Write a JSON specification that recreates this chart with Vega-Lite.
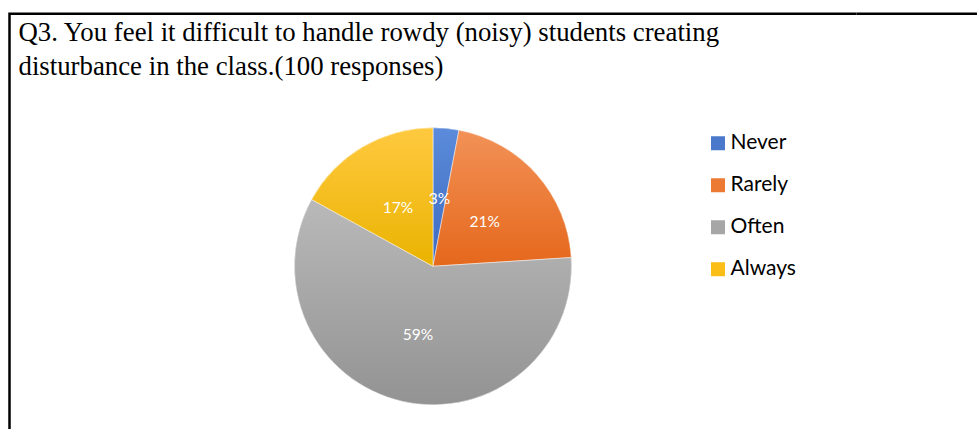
{
  "$schema": "https://vega.github.io/schema/vega-lite/v6.json",
  "autosize": {"type": "pad"},
  "bounds": "flush",
  "padding": {"left": 7.5, "top": 11.75, "right": -20, "bottom": -90.25},
  "background": "white",
  "title": {
    "text": ["Q3. You feel it difficult to handle rowdy (noisy) students creating", "disturbance in the class.(100 responses)"],
    "anchor": "start",
    "frame": "group",
    "font": "Liberation Serif",
    "fontSize": 26.8,
    "fontWeight": "normal",
    "color": "black",
    "lineHeight": 34,
    "dx": 9,
    "dy": 72
  },
  "data": {"values": [
    {"response": "Never", "idx": 1, "share": 0.03},
    {"response": "Rarely", "idx": 2, "share": 0.21},
    {"response": "Often", "idx": 3, "share": 0.59},
    {"response": "Always", "idx": 4, "share": 0.17}
  ]},
  "spacing": 0,
  "hconcat": [
    {
      "width": 847,
      "height": 505,
      "view": {"stroke": "black", "strokeWidth": 2.5, "strokeDash": [847, 505, 1352]},
      "encoding": {
        "theta": {"field": "share", "type": "quantitative", "stack": true, "scale": {"domain": [0, 1]}},
        "order": {"field": "idx", "type": "quantitative"}
      },
      "layer": [
        {
          "mark": {"type": "arc", "outerRadius": 138.5},
          "encoding": {
            "color": {
              "field": "response",
              "type": "nominal",
              "sort": ["Never", "Rarely", "Often", "Always"],
              "scale": {
                "domain": ["Never", "Rarely", "Often", "Always"],
                "range": ["#4A78CB", "#ED7A34", "#A6A6A6", "#FBBE16"]
              },
              "legend": {
                "orient": "none",
                "legendX": 698,
                "legendY": 119,
                "title": null,
                "symbolType": "square",
                "symbolSize": 196,
                "symbolStrokeWidth": 0,
                "symbolOpacity": 1,
                "labelFont": "Lato",
                "labelFontSize": 21,
                "labelColor": "black",
                "labelOffset": 2,
                "rowPadding": 20
              }
            }
          }
        },
        {
          "mark": {"type": "arc", "outerRadius": 138.5, "stroke": "white", "strokeWidth": 0.5},
          "encoding": {
            "fill": {
              "condition": [
                {"test": "datum.response === 'Never'", "value": {"gradient": "linear", "x1": 0, "y1": 0, "x2": 0, "y2": 1, "stops": [{"offset": 0, "color": "#5B8BDA"}, {"offset": 1, "color": "#3D6AC0"}]}},
                {"test": "datum.response === 'Rarely'", "value": {"gradient": "linear", "x1": 0, "y1": 0, "x2": 0, "y2": 1, "stops": [{"offset": 0, "color": "#F29157"}, {"offset": 1, "color": "#E5681C"}]}},
                {"test": "datum.response === 'Often'", "value": {"gradient": "linear", "x1": 0, "y1": 0, "x2": 0, "y2": 1, "stops": [{"offset": 0, "color": "#B9B9B9"}, {"offset": 1, "color": "#939393"}]}}
              ],
              "value": {"gradient": "linear", "x1": 0, "y1": 0, "x2": 0, "y2": 1, "stops": [{"offset": 0, "color": "#FFC940"}, {"offset": 1, "color": "#EAB300"}]}
            }
          }
        },
        {
          "mark": {"type": "text", "radius": 69, "fill": "white", "font": "Lato", "fontSize": 15.5, "dy": 1.5},
          "encoding": {
            "text": {"field": "share", "type": "quantitative", "format": ".0%"}
          }
        }
      ]
    },
    {
      "width": 140,
      "height": 505,
      "view": {"stroke": "black", "strokeWidth": 2.5, "strokeDash": [140, 100000]},
      "mark": "text",
      "encoding": {}
    }
  ]
}
